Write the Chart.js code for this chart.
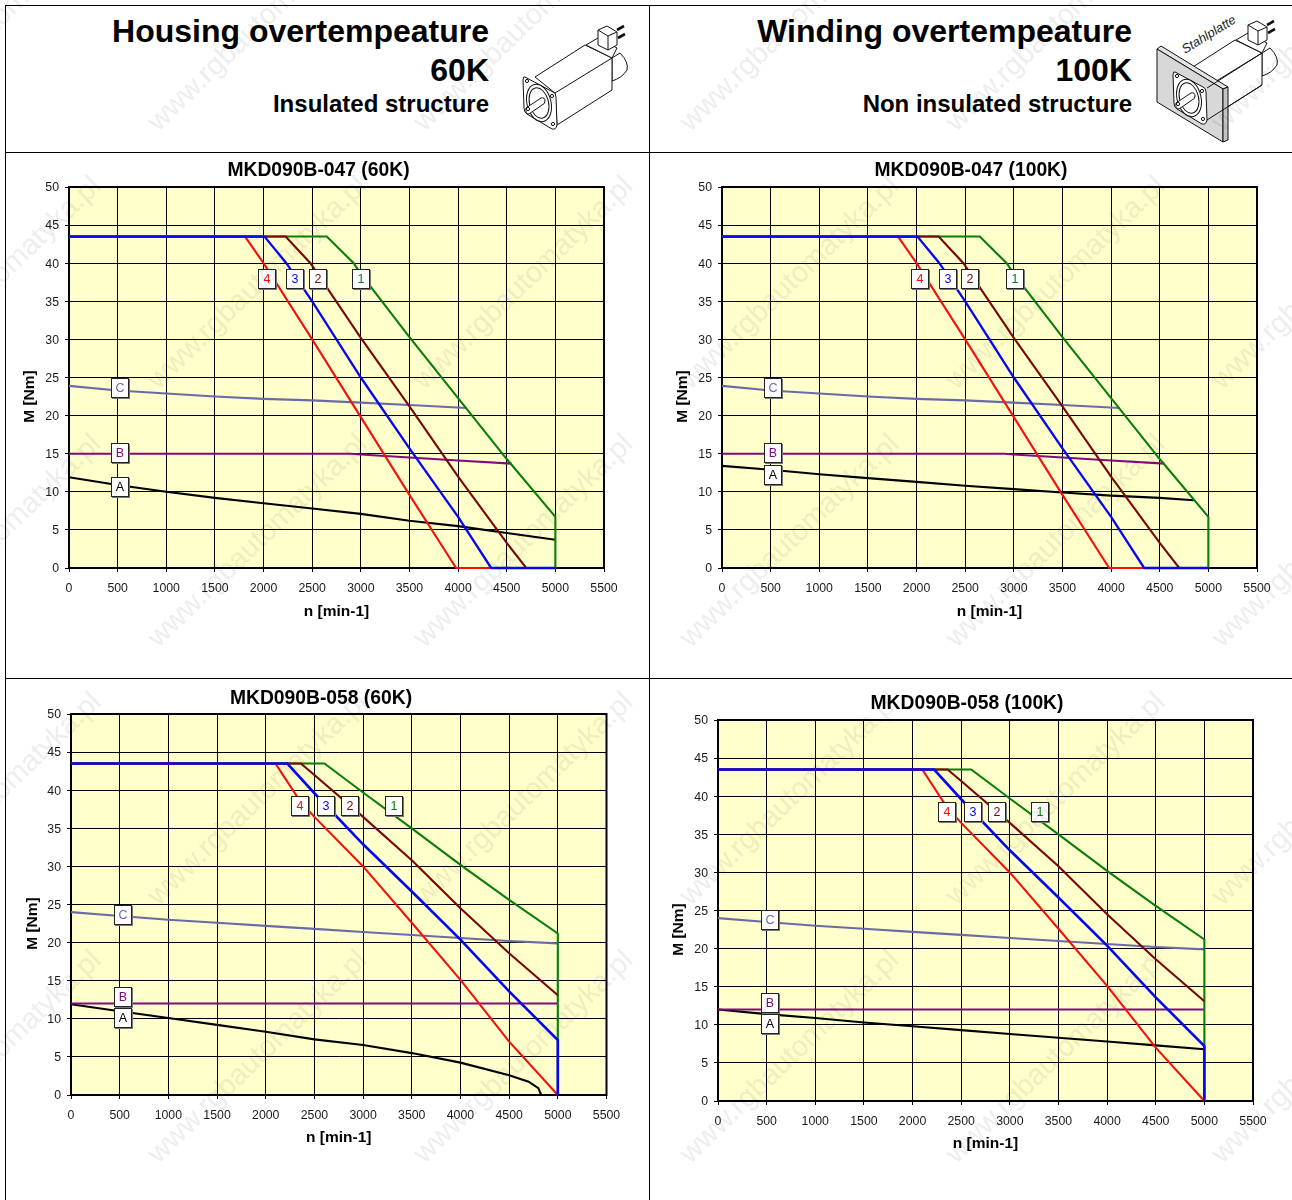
<!DOCTYPE html>
<html>
<head>
<meta charset="utf-8">
<script src="https://cdn.jsdelivr.net/npm/chart.js@4"></script>
<style>
html,body{margin:0;padding:0;background:#fff;}
#page{position:relative;width:1292px;height:1200px;overflow:hidden;background:#fff;font-family:"Liberation Sans",Arial,sans-serif;}
.rule{position:absolute;background:#000;}
canvas{position:absolute;display:block;}
.hd{position:absolute;text-align:right;font-weight:bold;color:#000;white-space:nowrap;line-height:1;}
#art{position:absolute;left:0;top:0;}
#wm{position:absolute;left:0;top:0;width:1292px;height:1200px;pointer-events:none;mix-blend-mode:multiply;overflow:hidden;}
#wm span{position:absolute;font-size:29px;color:#eeeeee;white-space:nowrap;transform-origin:0 100%;transform:rotate(-44deg);line-height:1;}
</style>
</head>
<body>
<div id="page">
  <div class="rule" style="left:5px;top:5px;width:1287px;height:1px"></div>
  <div class="rule" style="left:5px;top:5px;width:1px;height:1195px"></div>
  <div class="rule" style="left:649px;top:5px;width:1px;height:1195px"></div>
  <div class="rule" style="left:5px;top:152px;width:1287px;height:1px"></div>
  <div class="rule" style="left:5px;top:678px;width:1287px;height:1px"></div>

  <div class="hd" style="right:803px;top:15px;font-size:32px">Housing overtempeature</div>
  <div class="hd" style="right:803px;top:54px;font-size:32px">60K</div>
  <div class="hd" style="right:803px;top:92px;font-size:24px">Insulated structure</div>
  <div class="hd" style="right:160px;top:15px;font-size:32px">Winding overtempeature</div>
  <div class="hd" style="right:160px;top:54px;font-size:32px">100K</div>
  <div class="hd" style="right:160px;top:92px;font-size:24px">Non insulated structure</div>

  <svg id="art" width="1292" height="152" viewBox="0 0 1292 152">
    <defs>
      <g id="mbody" fill="#fff" stroke="#111" stroke-width="1" stroke-linejoin="round">
        <path d="M612 58 L620 53 Q629 62 627 70 Q622 78 612 81 Z"/>
        <path d="M535 77 L585 45 L612 58 L612 90 L557 125 L555 93 Z"/>
        <path d="M555 93 L612 58"/>
        <path d="M586 45 L598 38 L617 48 L612 58 Z"/>
        <path d="M598 30 L607 26 L617 32 L617 45 L608 50 L598 45 Z"/>
        <path d="M598 30 L608 36 L617 32 M608 36 L608 50"/>
        <path d="M617 30 L624 26 M618 38 L625 34" stroke-width="2.6"/>
      </g>
      <g id="mface" fill="#fff" stroke="#111" stroke-width="1" stroke-linejoin="round">
        <path d="M525 77 L553 92 Q556 93 556 97 L557 125 Q556 130 552 129 L527 114 Q524 112 524 108 L523 80 Q523 76 525 77 Z"/>
        <ellipse cx="539" cy="103" rx="12" ry="19" transform="rotate(-14 539 103)"/>
        <ellipse cx="539" cy="103" rx="9.5" ry="15.5" transform="rotate(-14 539 103)"/>
        <path d="M526 108 L541 98 Q545 97 545 101 Q545 104 542 105 L529 114 Q525 114 526 108 Z"/>
        <circle cx="527" cy="81" r="1.6"/><circle cx="552" cy="96" r="1.6"/><circle cx="553" cy="124" r="1.6"/><circle cx="528" cy="109" r="1.6"/>
      </g>
    </defs>
    <use href="#mbody"/>
    <use href="#mface"/>
    <use href="#mbody" transform="translate(650,-5)"/>
    <path d="M1157 49 L1161 46 L1228 87 L1223 89 Z" fill="#e4e4e4" stroke="#111"/>
    <path d="M1157 49 L1223 89 L1223 142 L1157 102 Z" fill="#d8d8d8" stroke="#111"/>
    <path d="M1223 89 L1228 87 L1228 140 L1223 142 Z" fill="#c4c4c4" stroke="#111"/>
    <path d="M1207 88 L1262 53 M1207 120 L1262 85" fill="none" stroke="#111"/>
    <use href="#mface" transform="translate(650,-5)"/>
    <text x="1185" y="54" transform="rotate(-31.6 1185 54)" font-family="Liberation Sans" font-style="italic" font-size="12.9" fill="#222">Stahlplatte</text>
  </svg>

  <canvas id="c1" style="left:6px;top:153px" width="625" height="524"></canvas>
  <canvas id="c2" style="left:650px;top:153px" width="642" height="524"></canvas>
  <canvas id="c3" style="left:6px;top:679px" width="630" height="521"></canvas>
  <canvas id="c4" style="left:650px;top:679px" width="634" height="521"></canvas>
  <div id="wm"></div>
</div>

<script>
/* ---------- tick labels ---------- */
const nMax = 5500, nStep = 500, mMax = 50, mStep = 5;

/* ---------- MKD090B-047 curves (speed n, torque M) ---------- */
const n047_1 = [0, 2650, 2927, 3000, 3500, 4000, 4500, 5000, 5000];
const m047_1 = [43.5, 43.5, 40, 38.6, 30.3, 22.3, 14.3, 6.7, 0];
const n047_2 = [0, 2227, 2482, 3000, 3500, 4000, 4500, 4700, 5000];
const m047_2 = [43.5, 43.5, 40, 30.2, 21.2, 12, 3.3, 0, 0];
const n047_3 = [0, 2010, 2235, 2500, 3000, 3500, 4000, 4340, 5000];
const m047_3 = [43.5, 43.5, 40, 35, 25, 15.7, 6.7, 0, 0];
const n047_4 = [0, 1810, 2000, 2500, 3000, 3500, 3980, 5000];
const m047_4 = [43.5, 43.5, 40, 30, 19.8, 9.6, 0, 0];
const n047_C = [0, 500, 1000, 1500, 2000, 2500, 3000, 3500, 4090];
const m047_C = [23.9, 23.3, 22.9, 22.5, 22.2, 22, 21.7, 21.4, 21];
const n047_B = [0, 2900, 3000, 3500, 4000, 4550];
const m047_B = [15, 15, 14.9, 14.5, 14.1, 13.7];
const n047_A60 = [0, 500, 1000, 1500, 2000, 2500, 3000, 3500, 4000, 4500, 5000];
const m047_A60 = [11.9, 10.9, 10, 9.2, 8.5, 7.8, 7.1, 6.2, 5.5, 4.6, 3.7];
const n047_A100 = [0, 500, 1000, 1500, 2000, 2500, 3000, 3500, 4000, 4500, 4850];
const m047_A100 = [13.4, 12.9, 12.3, 11.8, 11.3, 10.8, 10.35, 9.9, 9.5, 9.2, 8.9];

/* ---------- MKD090B-058 curves ---------- */
const n058_1 = [0, 2603, 3000, 3500, 4000, 4500, 5000, 5000];
const m058_1 = [43.5, 43.5, 39.7, 35, 30.2, 25.6, 21.2, 0];
const n058_2 = [0, 2360, 2500, 3000, 3500, 4000, 4500, 5000];
const m058_2 = [43.5, 43.5, 42, 36.5, 30.8, 24.5, 18.6, 13.1];
const n058_3 = [0, 2222, 2500, 3000, 3500, 4000, 4500, 5000, 5000];
const m058_3 = [43.5, 43.5, 39.6, 32.9, 26.7, 20.4, 13.6, 7.2, 0];
const n058_4 = [0, 2100, 2356, 2500, 3000, 3500, 4000, 4500, 5000];
const m058_4 = [43.5, 43.5, 38.5, 36.5, 30, 22.6, 15.1, 7, 0];
const n058_C = [0, 500, 1000, 1500, 2000, 2500, 3000, 3500, 4000, 4500, 5000];
const m058_C = [24, 23.5, 23, 22.6, 22.2, 21.8, 21.4, 21, 20.6, 20.2, 19.9];
const n058_B = [0, 5000];
const m058_B = [12, 12];
const n058_A60 = [0, 500, 1000, 1500, 2000, 2500, 3000, 3500, 4000, 4500, 4700, 4800, 4830];
const m058_A60 = [11.9, 11, 10.1, 9.2, 8.3, 7.3, 6.56, 5.5, 4.25, 2.6, 1.75, 0.9, 0];
const n058_A100 = [0, 500, 1000, 1500, 2000, 2500, 3000, 3500, 4000, 4500, 5000];
const m058_A100 = [12, 11.4, 10.9, 10.3, 9.8, 9.3, 8.8, 8.3, 7.8, 7.3, 6.8];

/* ---------- curve marker labels ---------- */
const markerNames = ['4', '3', '2', '1', 'C', 'B', 'A'];
const markerN_c1 = [2037, 2325, 2562, 3004, 525, 525, 525];
const markerM_c1 = [37.9, 37.9, 37.9, 37.9, 23.6, 15.1, 10.6];
const markerN_c2 = [2037, 2325, 2551, 3014, 525, 525, 525];
const markerM_c2 = [37.9, 37.9, 37.9, 37.9, 23.6, 15.1, 12.2];
const markerN_c3 = [2356, 2623, 2870, 3313, 535, 535, 535];
const markerM_c3 = [37.9, 37.9, 37.9, 37.9, 23.6, 12.9, 10.1];
const markerN_c4 = [2356, 2623, 2870, 3313, 535, 535, 535];
const markerM_c4 = [37.9, 37.9, 37.9, 37.9, 23.75, 12.85, 10.1];

/* ---------- styles ---------- */
const seriesColors = {'1':'#0a7d0a','2':'#7a0505','3':'#0505f5','4':'#f50f0f','A':'#000000','B':'#800a80','C':'#6a6aa8'};
const FONT = '"Liberation Sans", Arial, sans-serif';

function pts(xs, ys){ return xs.map((x,i)=>({x:x,y:ys[i]})); }
function line(name, xs, ys, w){
  return {label:name, data:pts(xs,ys), borderColor:seriesColors[name], backgroundColor:seriesColors[name],
          borderWidth:w||2.1, pointRadius:0, showLine:true, tension:0, clip:false};
}

const frame = {
  id:'frame',
  afterLayout(chart){
    chart.titleBlock.left = 0;
    chart.titleBlock.right = chart.width;
  },
  beforeDraw(chart){
    const a = chart.chartArea, c = chart.ctx;
    c.save(); c.fillStyle = '#ffffcc'; c.fillRect(a.left,a.top,a.width,a.height); c.restore();
  },
  beforeDatasetsDraw(chart){
    const a = chart.chartArea, c = chart.ctx;
    c.save(); c.strokeStyle = '#000'; c.lineWidth = 2; c.strokeRect(a.left,a.top,a.width,a.height); c.restore();
  },
  afterDatasetsDraw(chart, args, o){
    const c = chart.ctx, sx = chart.scales.x, sy = chart.scales.y;
    c.save();
    c.font = '12.5px ' + FONT; c.textAlign = 'center'; c.textBaseline = 'middle';
    markerNames.forEach((t,i)=>{
      const px = Math.round(sx.getPixelForValue(o.n[i])), py = Math.round(sy.getPixelForValue(o.m[i]));
      c.fillStyle = '#777'; c.fillRect(px-8, py-9, 18, 20);
      c.fillStyle = '#fff'; c.fillRect(px-9, py-10, 18, 20);
      c.strokeStyle = '#222'; c.lineWidth = 1; c.strokeRect(px-8.5, py-9.5, 17, 19);
      c.fillStyle = seriesColors[t]; c.fillText(t, px, py+0.5);
    });
    c.restore();
  }
};

function build(id, title, series, markN, markM, g){
  const cv = document.getElementById(id);
  const W = cv.width, H = cv.height;
  const tS = 19.3, tH = tS*1.2;
  return new Chart(cv, {
    type:'scatter',
    data:{datasets:series},
    plugins:[frame],
    options:{
      responsive:false, animation:false, devicePixelRatio:1,
      layout:{padding:{left:0, right:W-g.right, top:0, bottom:0}},
      plugins:{
        legend:{display:false}, tooltip:{enabled:false},
        title:{display:true, text:title, color:'#000', font:{family:FONT, size:tS, weight:'bold'},
               padding:{top:g.titleY-tH/2, bottom:g.top-(g.titleY+tH/2)}},
        frame:{n:markN, m:markM}
      },
      scales:{
        x:{type:'linear', min:0, max:nMax,
           afterFit(s){ s.height = H-g.bottom; },
           ticks:{stepSize:nStep, autoSkip:false, maxRotation:0, color:'#1a1a1a', padding:9, font:{family:FONT,size:12.3},
                  callback:(v)=>String(v)},
           grid:{color:'#000', lineWidth:1, tickLength:4, tickColor:'#000'},
           border:{color:'#000', width:1},
           title:{display:true, text:'n [min-1]', color:'#000', font:{family:FONT,size:15.5,weight:'bold'},
                  padding:{top:0,bottom:H-g.xTitleY-9.3}}},
        y:{type:'linear', min:0, max:mMax,
           afterFit(s){
             s.width = g.left;
             const base = Object.getPrototypeOf(s).drawTitle;
             s.drawTitle = function(){ this.top += 38; base.call(this); this.top -= 38; };
           },
           ticks:{stepSize:mStep, autoSkip:false, color:'#1a1a1a', padding:6, labelOffset:1, font:{family:FONT,size:12.3},
                  callback:(v)=>String(v)},
           grid:{color:'#000', lineWidth:1, tickLength:4, tickColor:'#000'},
           border:{color:'#000', width:1},
           title:{display:true, text:'M [Nm]', color:'#000', font:{family:FONT,size:15.5,weight:'bold'},
                  padding:{top:g.yTitleX-9.3,bottom:0}}}
      }
    }
  });
}

function set047(A_n, A_m){
  return [line('3',n047_3,m047_3,2.3), line('4',n047_4,m047_4), line('2',n047_2,m047_2), line('1',n047_1,m047_1),
          line('C',n047_C,m047_C), line('B',n047_B,m047_B), line('A',A_n,A_m)];
}
function set058(A_n, A_m){
  return [line('3',n058_3,m058_3,2.6), line('4',n058_4,m058_4), line('2',n058_2,m058_2), line('1',n058_1,m058_1),
          line('C',n058_C,m058_C), line('B',n058_B,m058_B), line('A',A_n,A_m)];
}

build('c1','MKD090B-047 (60K)', set047(n047_A60,m047_A60), markerN_c1, markerM_c1,
      {left:63, right:598, top:34, bottom:415, titleY:18, xTitleY:459, yTitleX:24});
build('c2','MKD090B-047 (100K)', set047(n047_A100,m047_A100), markerN_c2, markerM_c2,
      {left:72, right:607, top:34, bottom:415, titleY:18, xTitleY:459, yTitleX:33});
build('c3','MKD090B-058 (60K)', set058(n058_A60,m058_A60), markerN_c3, markerM_c3,
      {left:65, right:600.5, top:35, bottom:416, titleY:20, xTitleY:459, yTitleX:27});
build('c4','MKD090B-058 (100K)', set058(n058_A100,m058_A100), markerN_c4, markerM_c4,
      {left:68, right:603, top:41, bottom:422, titleY:25, xTitleY:465, yTitleX:29});

/* faint site watermark */
const wm = document.getElementById('wm');
for (let gx = -104; gx < 1400; gx += 266) {
  for (let gy = 136; gy < 1500; gy += 258) {
    const s = document.createElement('span');
    s.textContent = 'www.rgbautomatyka.pl';
    s.style.left = gx + 'px';
    s.style.top = (gy - 29) + 'px';
    wm.appendChild(s);
  }
}
</script>
</body>
</html>
